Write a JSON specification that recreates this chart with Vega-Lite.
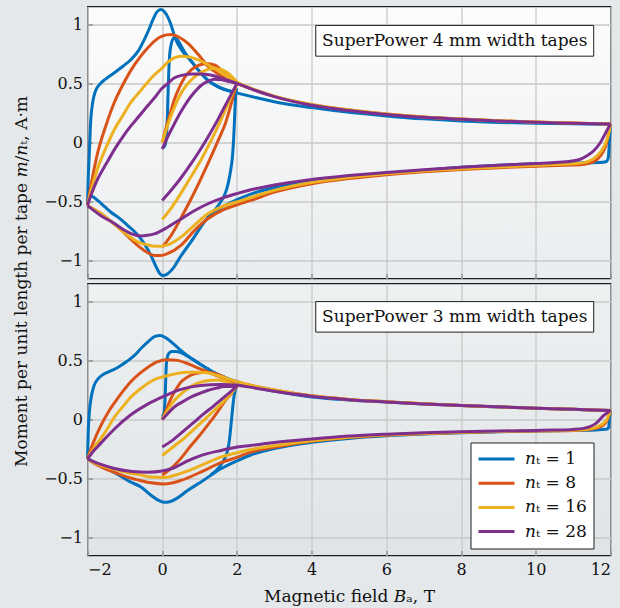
{
"$schema":"https://vega.github.io/schema/vega-lite/v6.json",
"background":"#e5e8ea",
"padding":{"left":11.5,"top":2.5,"right":5,"bottom":5},
"bounds":"flush",
"spacing":5,
"config":{
 "font":"DejaVu Serif",
 "view":{"stroke":"#1e1e1e","strokeWidth":1.3},
 "axis":{"grid":true,"gridColor":"#c8c8c8","gridWidth":1.3,"ticks":true,"tickSize":-5,"tickColor":"#8a8a8a","tickWidth":1.3,"domain":false,"labelFont":"DejaVu Serif","labelFontSize":16,"labelColor":"#111","titleFont":"DejaVu Serif","titleFontSize":17,"titleFontWeight":"normal","titleColor":"#111"},
 "line":{"strokeWidth":3,"interpolate":"monotone"}
},
"resolve":{"scale":{"color":"independent"},"legend":{"color":"independent"}},
"datasets":{
"top":[
{"s":1,"g":"v","x":0,"y":-0.05},{"s":1,"g":"v","x":0.08,"y":-0.02},{"s":1,"g":"v","x":0.13,"y":0.15},{"s":1,"g":"v","x":0.16,"y":0.45},{"s":1,"g":"v","x":0.19,"y":0.7},{"s":1,"g":"v","x":0.24,"y":0.83},{"s":1,"g":"v","x":0.32,"y":0.885},{"s":1,"g":"v","x":0.4,"y":0.87},{"s":1,"g":"v","x":0.5,"y":0.82},{"s":1,"g":"v","x":0.63,"y":0.75},{"s":1,"g":"v","x":0.77,"y":0.69},{"s":1,"g":"v","x":1,"y":0.6},{"s":1,"g":"v","x":1.21,"y":0.53},{"s":1,"g":"v","x":1.5,"y":0.47},{"s":1,"g":"v","x":1.75,"y":0.44},{"s":1,"g":"v","x":2,"y":0.42},
{"s":1,"g":"u","x":-2,"y":-0.53},{"s":1,"g":"u","x":-1.98,"y":-0.3},{"s":1,"g":"u","x":-1.95,"y":-0.08},{"s":1,"g":"u","x":-1.92,"y":0.15},{"s":1,"g":"u","x":-1.86,"y":0.34},{"s":1,"g":"u","x":-1.78,"y":0.44},{"s":1,"g":"u","x":-1.68,"y":0.49},{"s":1,"g":"u","x":-1.5,"y":0.54},{"s":1,"g":"u","x":-1.28,"y":0.59},{"s":1,"g":"u","x":-1.05,"y":0.645},{"s":1,"g":"u","x":-0.84,"y":0.7},{"s":1,"g":"u","x":-0.65,"y":0.77},{"s":1,"g":"u","x":-0.48,"y":0.87},{"s":1,"g":"u","x":-0.35,"y":0.96},{"s":1,"g":"u","x":-0.26,"y":1.03},{"s":1,"g":"u","x":-0.15,"y":1.1},{"s":1,"g":"u","x":-0.05,"y":1.125},{"s":1,"g":"u","x":0.05,"y":1.11},{"s":1,"g":"u","x":0.15,"y":1.06},{"s":1,"g":"u","x":0.23,"y":1.0},{"s":1,"g":"u","x":0.35,"y":0.88},{"s":1,"g":"u","x":0.5,"y":0.79},{"s":1,"g":"u","x":0.77,"y":0.69},{"s":1,"g":"u","x":1,"y":0.6},{"s":1,"g":"u","x":1.21,"y":0.53},{"s":1,"g":"u","x":1.5,"y":0.47},{"s":1,"g":"u","x":2,"y":0.42},{"s":1,"g":"u","x":2.5,"y":0.38},{"s":1,"g":"u","x":3,"y":0.345},{"s":1,"g":"u","x":4,"y":0.295},{"s":1,"g":"u","x":5,"y":0.255},{"s":1,"g":"u","x":6,"y":0.225},{"s":1,"g":"u","x":7,"y":0.2},{"s":1,"g":"u","x":8,"y":0.182},{"s":1,"g":"u","x":9,"y":0.17},{"s":1,"g":"u","x":10,"y":0.163},{"s":1,"g":"u","x":11,"y":0.158},{"s":1,"g":"u","x":12,"y":0.154},
{"s":1,"g":"l","x":12,"y":0.154},{"s":1,"g":"l","x":11.97,"y":0.0},{"s":1,"g":"l","x":11.94,"y":-0.13},{"s":1,"g":"l","x":11.88,"y":-0.163},{"s":1,"g":"l","x":11.7,"y":-0.17},{"s":1,"g":"l","x":11.3,"y":-0.172},{"s":1,"g":"l","x":11,"y":-0.174},{"s":1,"g":"l","x":10,"y":-0.18},{"s":1,"g":"l","x":9,"y":-0.192},{"s":1,"g":"l","x":8,"y":-0.21},{"s":1,"g":"l","x":7,"y":-0.235},{"s":1,"g":"l","x":6,"y":-0.262},{"s":1,"g":"l","x":5,"y":-0.292},{"s":1,"g":"l","x":4,"y":-0.327},{"s":1,"g":"l","x":3,"y":-0.38},{"s":1,"g":"l","x":2.37,"y":-0.436},{"s":1,"g":"l","x":2.02,"y":-0.48},{"s":1,"g":"l","x":1.66,"y":-0.535},{"s":1,"g":"l","x":1.21,"y":-0.64},{"s":1,"g":"l","x":0.77,"y":-0.84},{"s":1,"g":"l","x":0.5,"y":-0.96},{"s":1,"g":"l","x":0.3,"y":-1.06},{"s":1,"g":"l","x":0.12,"y":-1.115},{"s":1,"g":"l","x":0.02,"y":-1.125},{"s":1,"g":"l","x":-0.06,"y":-1.11},{"s":1,"g":"l","x":-0.15,"y":-1.06},{"s":1,"g":"l","x":-0.3,"y":-0.956},{"s":1,"g":"l","x":-0.45,"y":-0.87},{"s":1,"g":"l","x":-0.57,"y":-0.815},{"s":1,"g":"l","x":-0.75,"y":-0.75},{"s":1,"g":"l","x":-0.93,"y":-0.7},{"s":1,"g":"l","x":-1.15,"y":-0.64},{"s":1,"g":"l","x":-1.37,"y":-0.59},{"s":1,"g":"l","x":-1.55,"y":-0.54},{"s":1,"g":"l","x":-1.73,"y":-0.49},{"s":1,"g":"l","x":-1.85,"y":-0.46},{"s":1,"g":"l","x":-1.93,"y":-0.45},{"s":1,"g":"l","x":-2,"y":-0.45},
{"s":1,"g":"r","x":1.2,"y":-0.64},{"s":1,"g":"r","x":1.4,"y":-0.575},{"s":1,"g":"r","x":1.55,"y":-0.51},{"s":1,"g":"r","x":1.66,"y":-0.45},{"s":1,"g":"r","x":1.73,"y":-0.39},{"s":1,"g":"r","x":1.79,"y":-0.31},{"s":1,"g":"r","x":1.84,"y":-0.22},{"s":1,"g":"r","x":1.88,"y":-0.12},{"s":1,"g":"r","x":1.91,"y":0.02},{"s":1,"g":"r","x":1.93,"y":0.15},{"s":1,"g":"r","x":1.95,"y":0.3},{"s":1,"g":"r","x":1.97,"y":0.42},{"s":1,"g":"r","x":2,"y":0.46},
{"s":8,"g":"v","x":0,"y":0},{"s":8,"g":"v","x":0.1,"y":0.12},{"s":8,"g":"v","x":0.2,"y":0.23},{"s":8,"g":"v","x":0.32,"y":0.36},{"s":8,"g":"v","x":0.45,"y":0.46},{"s":8,"g":"v","x":0.6,"y":0.55},{"s":8,"g":"v","x":0.8,"y":0.62},{"s":8,"g":"v","x":1,"y":0.655},{"s":8,"g":"v","x":1.2,"y":0.665},{"s":8,"g":"v","x":1.4,"y":0.655},{"s":8,"g":"v","x":1.6,"y":0.61},{"s":8,"g":"v","x":1.8,"y":0.56},{"s":8,"g":"v","x":2,"y":0.51},
{"s":8,"g":"u","x":-2,"y":-0.53},{"s":8,"g":"u","x":-1.9,"y":-0.35},{"s":8,"g":"u","x":-1.8,"y":-0.19},{"s":8,"g":"u","x":-1.73,"y":-0.09},{"s":8,"g":"u","x":-1.5,"y":0.15},{"s":8,"g":"u","x":-1.28,"y":0.34},{"s":8,"g":"u","x":-1.05,"y":0.49},{"s":8,"g":"u","x":-0.84,"y":0.61},{"s":8,"g":"u","x":-0.6,"y":0.72},{"s":8,"g":"u","x":-0.39,"y":0.8},{"s":8,"g":"u","x":-0.2,"y":0.86},{"s":8,"g":"u","x":0,"y":0.9},{"s":8,"g":"u","x":0.23,"y":0.913},{"s":8,"g":"u","x":0.45,"y":0.89},{"s":8,"g":"u","x":0.68,"y":0.84},{"s":8,"g":"u","x":0.95,"y":0.75},{"s":8,"g":"u","x":1.21,"y":0.65},{"s":8,"g":"u","x":1.5,"y":0.58},{"s":8,"g":"u","x":1.75,"y":0.53},{"s":8,"g":"u","x":2,"y":0.5},{"s":8,"g":"u","x":2.5,"y":0.44},{"s":8,"g":"u","x":3,"y":0.39},{"s":8,"g":"u","x":4,"y":0.32},{"s":8,"g":"u","x":5,"y":0.275},{"s":8,"g":"u","x":6,"y":0.24},{"s":8,"g":"u","x":7,"y":0.215},{"s":8,"g":"u","x":8,"y":0.198},{"s":8,"g":"u","x":9,"y":0.184},{"s":8,"g":"u","x":10,"y":0.173},{"s":8,"g":"u","x":11,"y":0.164},{"s":8,"g":"u","x":12,"y":0.156},
{"s":8,"g":"l","x":12,"y":0.156},{"s":8,"g":"l","x":11.95,"y":0.08},{"s":8,"g":"l","x":11.9,"y":0.0},{"s":8,"g":"l","x":11.8,"y":-0.08},{"s":8,"g":"l","x":11.65,"y":-0.14},{"s":8,"g":"l","x":11.45,"y":-0.175},{"s":8,"g":"l","x":11.2,"y":-0.188},{"s":8,"g":"l","x":11,"y":-0.19},{"s":8,"g":"l","x":10,"y":-0.2},{"s":8,"g":"l","x":9,"y":-0.213},{"s":8,"g":"l","x":8,"y":-0.228},{"s":8,"g":"l","x":7,"y":-0.247},{"s":8,"g":"l","x":6,"y":-0.272},{"s":8,"g":"l","x":5,"y":-0.305},{"s":8,"g":"l","x":4,"y":-0.348},{"s":8,"g":"l","x":3,"y":-0.42},{"s":8,"g":"l","x":2.37,"y":-0.49},{"s":8,"g":"l","x":2.02,"y":-0.525},{"s":8,"g":"l","x":1.66,"y":-0.565},{"s":8,"g":"l","x":1.21,"y":-0.647},{"s":8,"g":"l","x":0.86,"y":-0.745},{"s":8,"g":"l","x":0.5,"y":-0.87},{"s":8,"g":"l","x":0.14,"y":-0.94},{"s":8,"g":"l","x":-0.05,"y":-0.956},{"s":8,"g":"l","x":-0.21,"y":-0.956},{"s":8,"g":"l","x":-0.4,"y":-0.93},{"s":8,"g":"l","x":-0.66,"y":-0.87},{"s":8,"g":"l","x":-0.9,"y":-0.8},{"s":8,"g":"l","x":-1.1,"y":-0.74},{"s":8,"g":"l","x":-1.4,"y":-0.66},{"s":8,"g":"l","x":-1.64,"y":-0.6},{"s":8,"g":"l","x":-1.85,"y":-0.56},{"s":8,"g":"l","x":-2,"y":-0.535},
{"s":8,"g":"r","x":0,"y":-0.885},{"s":8,"g":"r","x":0.25,"y":-0.78},{"s":8,"g":"r","x":0.5,"y":-0.64},{"s":8,"g":"r","x":0.75,"y":-0.49},{"s":8,"g":"r","x":1,"y":-0.33},{"s":8,"g":"r","x":1.25,"y":-0.16},{"s":8,"g":"r","x":1.5,"y":0.02},{"s":8,"g":"r","x":1.7,"y":0.17},{"s":8,"g":"r","x":1.85,"y":0.33},{"s":8,"g":"r","x":1.95,"y":0.45},{"s":8,"g":"r","x":2,"y":0.5},
{"s":16,"g":"v","x":0,"y":0},{"s":16,"g":"v","x":0.15,"y":0.15},{"s":16,"g":"v","x":0.32,"y":0.295},{"s":16,"g":"v","x":0.45,"y":0.385},{"s":16,"g":"v","x":0.59,"y":0.46},{"s":16,"g":"v","x":0.75,"y":0.52},{"s":16,"g":"v","x":0.95,"y":0.575},{"s":16,"g":"v","x":1.15,"y":0.61},{"s":16,"g":"v","x":1.35,"y":0.625},{"s":16,"g":"v","x":1.55,"y":0.62},{"s":16,"g":"v","x":1.75,"y":0.59},{"s":16,"g":"v","x":2,"y":0.51},
{"s":16,"g":"u","x":-2,"y":-0.53},{"s":16,"g":"u","x":-1.9,"y":-0.4},{"s":16,"g":"u","x":-1.73,"y":-0.22},{"s":16,"g":"u","x":-1.5,"y":-0.04},{"s":16,"g":"u","x":-1.28,"y":0.11},{"s":16,"g":"u","x":-1.05,"y":0.23},{"s":16,"g":"u","x":-0.84,"y":0.34},{"s":16,"g":"u","x":-0.6,"y":0.43},{"s":16,"g":"u","x":-0.39,"y":0.51},{"s":16,"g":"u","x":-0.2,"y":0.575},{"s":16,"g":"u","x":0,"y":0.63},{"s":16,"g":"u","x":0.15,"y":0.68},{"s":16,"g":"u","x":0.32,"y":0.715},{"s":16,"g":"u","x":0.5,"y":0.73},{"s":16,"g":"u","x":0.77,"y":0.72},{"s":16,"g":"u","x":1,"y":0.695},{"s":16,"g":"u","x":1.21,"y":0.66},{"s":16,"g":"u","x":1.45,"y":0.615},{"s":16,"g":"u","x":1.66,"y":0.576},{"s":16,"g":"u","x":2,"y":0.51},{"s":16,"g":"u","x":2.5,"y":0.445},{"s":16,"g":"u","x":3,"y":0.392},{"s":16,"g":"u","x":4,"y":0.322},{"s":16,"g":"u","x":5,"y":0.277},{"s":16,"g":"u","x":6,"y":0.242},{"s":16,"g":"u","x":7,"y":0.216},{"s":16,"g":"u","x":8,"y":0.198},{"s":16,"g":"u","x":9,"y":0.184},{"s":16,"g":"u","x":10,"y":0.173},{"s":16,"g":"u","x":11,"y":0.164},{"s":16,"g":"u","x":12,"y":0.156},
{"s":16,"g":"l","x":12,"y":0.156},{"s":16,"g":"l","x":11.95,"y":0.07},{"s":16,"g":"l","x":11.85,"y":-0.02},{"s":16,"g":"l","x":11.65,"y":-0.11},{"s":16,"g":"l","x":11.4,"y":-0.16},{"s":16,"g":"l","x":11.1,"y":-0.178},{"s":16,"g":"l","x":11,"y":-0.18},{"s":16,"g":"l","x":10,"y":-0.193},{"s":16,"g":"l","x":9,"y":-0.207},{"s":16,"g":"l","x":8,"y":-0.222},{"s":16,"g":"l","x":7,"y":-0.24},{"s":16,"g":"l","x":6,"y":-0.265},{"s":16,"g":"l","x":5,"y":-0.297},{"s":16,"g":"l","x":4,"y":-0.338},{"s":16,"g":"l","x":3,"y":-0.405},{"s":16,"g":"l","x":2.37,"y":-0.465},{"s":16,"g":"l","x":2.02,"y":-0.5},{"s":16,"g":"l","x":1.66,"y":-0.535},{"s":16,"g":"l","x":1.21,"y":-0.605},{"s":16,"g":"l","x":0.86,"y":-0.7},{"s":16,"g":"l","x":0.5,"y":-0.8},{"s":16,"g":"l","x":0.14,"y":-0.866},{"s":16,"g":"l","x":-0.05,"y":-0.877},{"s":16,"g":"l","x":-0.21,"y":-0.877},{"s":16,"g":"l","x":-0.4,"y":-0.865},{"s":16,"g":"l","x":-0.66,"y":-0.84},{"s":16,"g":"l","x":-0.9,"y":-0.79},{"s":16,"g":"l","x":-1.1,"y":-0.74},{"s":16,"g":"l","x":-1.4,"y":-0.66},{"s":16,"g":"l","x":-1.64,"y":-0.6},{"s":16,"g":"l","x":-1.85,"y":-0.56},{"s":16,"g":"l","x":-2,"y":-0.535},
{"s":16,"g":"r","x":0,"y":-0.65},{"s":16,"g":"r","x":0.25,"y":-0.55},{"s":16,"g":"r","x":0.5,"y":-0.43},{"s":16,"g":"r","x":0.75,"y":-0.3},{"s":16,"g":"r","x":1,"y":-0.17},{"s":16,"g":"r","x":1.25,"y":-0.02},{"s":16,"g":"r","x":1.5,"y":0.14},{"s":16,"g":"r","x":1.75,"y":0.32},{"s":16,"g":"r","x":2,"y":0.5},
{"s":28,"g":"v","x":0,"y":-0.055},{"s":28,"g":"v","x":0.15,"y":0.05},{"s":28,"g":"v","x":0.32,"y":0.155},{"s":28,"g":"v","x":0.5,"y":0.26},{"s":28,"g":"v","x":0.68,"y":0.35},{"s":28,"g":"v","x":0.85,"y":0.42},{"s":28,"g":"v","x":1.03,"y":0.48},{"s":28,"g":"v","x":1.2,"y":0.515},{"s":28,"g":"v","x":1.39,"y":0.535},{"s":28,"g":"v","x":1.6,"y":0.53},{"s":28,"g":"v","x":1.8,"y":0.515},{"s":28,"g":"v","x":2,"y":0.5},
{"s":28,"g":"u","x":-2,"y":-0.53},{"s":28,"g":"u","x":-1.9,"y":-0.44},{"s":28,"g":"u","x":-1.73,"y":-0.31},{"s":28,"g":"u","x":-1.5,"y":-0.18},{"s":28,"g":"u","x":-1.28,"y":-0.06},{"s":28,"g":"u","x":-1.05,"y":0.05},{"s":28,"g":"u","x":-0.84,"y":0.14},{"s":28,"g":"u","x":-0.6,"y":0.23},{"s":28,"g":"u","x":-0.39,"y":0.31},{"s":28,"g":"u","x":-0.2,"y":0.38},{"s":28,"g":"u","x":-0.03,"y":0.45},{"s":28,"g":"u","x":0.15,"y":0.5},{"s":28,"g":"u","x":0.32,"y":0.545},{"s":28,"g":"u","x":0.55,"y":0.57},{"s":28,"g":"u","x":0.8,"y":0.58},{"s":28,"g":"u","x":1.05,"y":0.58},{"s":28,"g":"u","x":1.3,"y":0.57},{"s":28,"g":"u","x":1.66,"y":0.535},{"s":28,"g":"u","x":2,"y":0.5},{"s":28,"g":"u","x":2.5,"y":0.44},{"s":28,"g":"u","x":3,"y":0.388},{"s":28,"g":"u","x":4,"y":0.315},{"s":28,"g":"u","x":5,"y":0.27},{"s":28,"g":"u","x":6,"y":0.237},{"s":28,"g":"u","x":7,"y":0.213},{"s":28,"g":"u","x":8,"y":0.196},{"s":28,"g":"u","x":9,"y":0.182},{"s":28,"g":"u","x":10,"y":0.171},{"s":28,"g":"u","x":11,"y":0.163},{"s":28,"g":"u","x":12,"y":0.156},
{"s":28,"g":"l","x":12,"y":0.156},{"s":28,"g":"l","x":11.9,"y":0.1},{"s":28,"g":"l","x":11.73,"y":0.0},{"s":28,"g":"l","x":11.55,"y":-0.07},{"s":28,"g":"l","x":11.38,"y":-0.11},{"s":28,"g":"l","x":11.2,"y":-0.14},{"s":28,"g":"l","x":11.02,"y":-0.155},{"s":28,"g":"l","x":10.6,"y":-0.168},{"s":28,"g":"l","x":10,"y":-0.178},{"s":28,"g":"l","x":9,"y":-0.193},{"s":28,"g":"l","x":8,"y":-0.21},{"s":28,"g":"l","x":7,"y":-0.23},{"s":28,"g":"l","x":6,"y":-0.253},{"s":28,"g":"l","x":5,"y":-0.28},{"s":28,"g":"l","x":4,"y":-0.312},{"s":28,"g":"l","x":3,"y":-0.36},{"s":28,"g":"l","x":2.37,"y":-0.4},{"s":28,"g":"l","x":2.02,"y":-0.43},{"s":28,"g":"l","x":1.66,"y":-0.464},{"s":28,"g":"l","x":1.21,"y":-0.52},{"s":28,"g":"l","x":0.86,"y":-0.577},{"s":28,"g":"l","x":0.5,"y":-0.647},{"s":28,"g":"l","x":0.14,"y":-0.717},{"s":28,"g":"l","x":-0.21,"y":-0.773},{"s":28,"g":"l","x":-0.39,"y":-0.785},{"s":28,"g":"l","x":-0.57,"y":-0.79},{"s":28,"g":"l","x":-0.8,"y":-0.775},{"s":28,"g":"l","x":-1.02,"y":-0.74},{"s":28,"g":"l","x":-1.3,"y":-0.68},{"s":28,"g":"l","x":-1.64,"y":-0.62},{"s":28,"g":"l","x":-1.85,"y":-0.57},{"s":28,"g":"l","x":-2,"y":-0.535},
{"s":28,"g":"r","x":0,"y":-0.49},{"s":28,"g":"r","x":0.25,"y":-0.4},{"s":28,"g":"r","x":0.5,"y":-0.3},{"s":28,"g":"r","x":0.75,"y":-0.19},{"s":28,"g":"r","x":1,"y":-0.07},{"s":28,"g":"r","x":1.25,"y":0.06},{"s":28,"g":"r","x":1.5,"y":0.2},{"s":28,"g":"r","x":1.75,"y":0.35},{"s":28,"g":"r","x":2,"y":0.5}
],
"bot":[
{"s":1,"g":"v","x":0,"y":0.02},{"s":1,"g":"v","x":0.05,"y":0.06},{"s":1,"g":"v","x":0.08,"y":0.2},{"s":1,"g":"v","x":0.1,"y":0.4},{"s":1,"g":"v","x":0.13,"y":0.52},{"s":1,"g":"v","x":0.18,"y":0.56},{"s":1,"g":"v","x":0.26,"y":0.575},{"s":1,"g":"v","x":0.35,"y":0.575},{"s":1,"g":"v","x":0.5,"y":0.565},{"s":1,"g":"v","x":0.68,"y":0.535},{"s":1,"g":"v","x":0.86,"y":0.5},{"s":1,"g":"v","x":1.05,"y":0.46},{"s":1,"g":"v","x":1.21,"y":0.43},{"s":1,"g":"v","x":1.4,"y":0.395},{"s":1,"g":"v","x":1.57,"y":0.37},{"s":1,"g":"v","x":1.75,"y":0.345},{"s":1,"g":"v","x":2,"y":0.32},
{"s":1,"g":"u","x":-2,"y":-0.332},{"s":1,"g":"u","x":-1.98,"y":-0.1},{"s":1,"g":"u","x":-1.95,"y":0.06},{"s":1,"g":"u","x":-1.9,"y":0.19},{"s":1,"g":"u","x":-1.82,"y":0.29},{"s":1,"g":"u","x":-1.7,"y":0.35},{"s":1,"g":"u","x":-1.55,"y":0.386},{"s":1,"g":"u","x":-1.35,"y":0.415},{"s":1,"g":"u","x":-1.19,"y":0.44},{"s":1,"g":"u","x":-0.95,"y":0.49},{"s":1,"g":"u","x":-0.75,"y":0.54},{"s":1,"g":"u","x":-0.57,"y":0.6},{"s":1,"g":"u","x":-0.39,"y":0.654},{"s":1,"g":"u","x":-0.21,"y":0.7},{"s":1,"g":"u","x":-0.05,"y":0.71},{"s":1,"g":"u","x":0.1,"y":0.69},{"s":1,"g":"u","x":0.3,"y":0.64},{"s":1,"g":"u","x":0.5,"y":0.585},{"s":1,"g":"u","x":0.7,"y":0.535},{"s":1,"g":"u","x":0.86,"y":0.5},{"s":1,"g":"u","x":1.05,"y":0.46},{"s":1,"g":"u","x":1.21,"y":0.43},{"s":1,"g":"u","x":1.4,"y":0.395},{"s":1,"g":"u","x":1.57,"y":0.37},{"s":1,"g":"u","x":1.75,"y":0.345},{"s":1,"g":"u","x":2.02,"y":0.316},{"s":1,"g":"u","x":2.5,"y":0.27},{"s":1,"g":"u","x":3,"y":0.24},{"s":1,"g":"u","x":4,"y":0.19},{"s":1,"g":"u","x":5,"y":0.165},{"s":1,"g":"u","x":6,"y":0.148},{"s":1,"g":"u","x":7,"y":0.132},{"s":1,"g":"u","x":8,"y":0.118},{"s":1,"g":"u","x":9,"y":0.106},{"s":1,"g":"u","x":10,"y":0.096},{"s":1,"g":"u","x":11,"y":0.086},{"s":1,"g":"u","x":12,"y":0.076},
{"s":1,"g":"l","x":12,"y":0.076},{"s":1,"g":"l","x":11.97,"y":0.0},{"s":1,"g":"l","x":11.95,"y":-0.07},{"s":1,"g":"l","x":11.88,"y":-0.083},{"s":1,"g":"l","x":11.6,"y":-0.088},{"s":1,"g":"l","x":11,"y":-0.091},{"s":1,"g":"l","x":10,"y":-0.098},{"s":1,"g":"l","x":9,"y":-0.104},{"s":1,"g":"l","x":8,"y":-0.112},{"s":1,"g":"l","x":7,"y":-0.123},{"s":1,"g":"l","x":6,"y":-0.138},{"s":1,"g":"l","x":5,"y":-0.16},{"s":1,"g":"l","x":4,"y":-0.193},{"s":1,"g":"l","x":3,"y":-0.245},{"s":1,"g":"l","x":2.37,"y":-0.3},{"s":1,"g":"l","x":2.02,"y":-0.347},{"s":1,"g":"l","x":1.57,"y":-0.417},{"s":1,"g":"l","x":1.03,"y":-0.53},{"s":1,"g":"l","x":0.68,"y":-0.6},{"s":1,"g":"l","x":0.4,"y":-0.665},{"s":1,"g":"l","x":0.2,"y":-0.695},{"s":1,"g":"l","x":0.05,"y":-0.7},{"s":1,"g":"l","x":-0.12,"y":-0.68},{"s":1,"g":"l","x":-0.3,"y":-0.64},{"s":1,"g":"l","x":-0.57,"y":-0.57},{"s":1,"g":"l","x":-0.84,"y":-0.53},{"s":1,"g":"l","x":-1.19,"y":-0.465},{"s":1,"g":"l","x":-1.45,"y":-0.42},{"s":1,"g":"l","x":-1.64,"y":-0.39},{"s":1,"g":"l","x":-1.85,"y":-0.355},{"s":1,"g":"l","x":-2,"y":-0.332},
{"s":1,"g":"r","x":1.3,"y":-0.47},{"s":1,"g":"r","x":1.45,"y":-0.43},{"s":1,"g":"r","x":1.6,"y":-0.37},{"s":1,"g":"r","x":1.7,"y":-0.31},{"s":1,"g":"r","x":1.76,"y":-0.25},{"s":1,"g":"r","x":1.8,"y":-0.17},{"s":1,"g":"r","x":1.84,"y":-0.05},{"s":1,"g":"r","x":1.88,"y":0.08},{"s":1,"g":"r","x":1.92,"y":0.19},{"s":1,"g":"r","x":1.96,"y":0.25},{"s":1,"g":"r","x":2,"y":0.28},
{"s":8,"g":"v","x":0,"y":0},{"s":8,"g":"v","x":0.12,"y":0.09},{"s":8,"g":"v","x":0.23,"y":0.175},{"s":8,"g":"v","x":0.36,"y":0.25},{"s":8,"g":"v","x":0.5,"y":0.316},{"s":8,"g":"v","x":0.68,"y":0.36},{"s":8,"g":"v","x":0.86,"y":0.386},{"s":8,"g":"v","x":1.05,"y":0.398},{"s":8,"g":"v","x":1.21,"y":0.4},{"s":8,"g":"v","x":1.4,"y":0.39},{"s":8,"g":"v","x":1.57,"y":0.372},{"s":8,"g":"v","x":1.8,"y":0.33},{"s":8,"g":"v","x":2,"y":0.28},
{"s":8,"g":"u","x":-2,"y":-0.332},{"s":8,"g":"u","x":-1.85,"y":-0.2},{"s":8,"g":"u","x":-1.64,"y":-0.05},{"s":8,"g":"u","x":-1.45,"y":0.06},{"s":8,"g":"u","x":-1.28,"y":0.14},{"s":8,"g":"u","x":-1.05,"y":0.24},{"s":8,"g":"u","x":-0.84,"y":0.32},{"s":8,"g":"u","x":-0.6,"y":0.39},{"s":8,"g":"u","x":-0.39,"y":0.44},{"s":8,"g":"u","x":-0.15,"y":0.485},{"s":8,"g":"u","x":0.14,"y":0.505},{"s":8,"g":"u","x":0.4,"y":0.5},{"s":8,"g":"u","x":0.7,"y":0.47},{"s":8,"g":"u","x":1,"y":0.43},{"s":8,"g":"u","x":1.3,"y":0.39},{"s":8,"g":"u","x":1.6,"y":0.355},{"s":8,"g":"u","x":2,"y":0.32},{"s":8,"g":"u","x":2.5,"y":0.28},{"s":8,"g":"u","x":3,"y":0.25},{"s":8,"g":"u","x":4,"y":0.2},{"s":8,"g":"u","x":5,"y":0.17},{"s":8,"g":"u","x":6,"y":0.15},{"s":8,"g":"u","x":7,"y":0.133},{"s":8,"g":"u","x":8,"y":0.118},{"s":8,"g":"u","x":9,"y":0.107},{"s":8,"g":"u","x":10,"y":0.096},{"s":8,"g":"u","x":11,"y":0.086},{"s":8,"g":"u","x":12,"y":0.076},
{"s":8,"g":"l","x":12,"y":0.076},{"s":8,"g":"l","x":11.92,"y":0.0},{"s":8,"g":"l","x":11.8,"y":-0.05},{"s":8,"g":"l","x":11.6,"y":-0.075},{"s":8,"g":"l","x":11.35,"y":-0.087},{"s":8,"g":"l","x":11,"y":-0.092},{"s":8,"g":"l","x":10,"y":-0.097},{"s":8,"g":"l","x":9,"y":-0.102},{"s":8,"g":"l","x":8,"y":-0.11},{"s":8,"g":"l","x":7,"y":-0.12},{"s":8,"g":"l","x":6,"y":-0.133},{"s":8,"g":"l","x":5,"y":-0.153},{"s":8,"g":"l","x":4,"y":-0.185},{"s":8,"g":"l","x":3,"y":-0.235},{"s":8,"g":"l","x":2.37,"y":-0.276},{"s":8,"g":"l","x":2.02,"y":-0.318},{"s":8,"g":"l","x":1.57,"y":-0.365},{"s":8,"g":"l","x":1.03,"y":-0.445},{"s":8,"g":"l","x":0.5,"y":-0.515},{"s":8,"g":"l","x":0.05,"y":-0.545},{"s":8,"g":"l","x":-0.3,"y":-0.535},{"s":8,"g":"l","x":-0.6,"y":-0.515},{"s":8,"g":"l","x":-0.93,"y":-0.487},{"s":8,"g":"l","x":-1.3,"y":-0.445},{"s":8,"g":"l","x":-1.64,"y":-0.4},{"s":8,"g":"l","x":-1.85,"y":-0.365},{"s":8,"g":"l","x":-2,"y":-0.332},
{"s":8,"g":"r","x":0,"y":-0.47},{"s":8,"g":"r","x":0.32,"y":-0.39},{"s":8,"g":"r","x":0.55,"y":-0.31},{"s":8,"g":"r","x":0.77,"y":-0.22},{"s":8,"g":"r","x":1,"y":-0.135},{"s":8,"g":"r","x":1.21,"y":-0.05},{"s":8,"g":"r","x":1.45,"y":0.05},{"s":8,"g":"r","x":1.66,"y":0.147},{"s":8,"g":"r","x":1.85,"y":0.22},{"s":8,"g":"r","x":2,"y":0.28},
{"s":16,"g":"v","x":0,"y":0},{"s":16,"g":"v","x":0.15,"y":0.08},{"s":16,"g":"v","x":0.32,"y":0.16},{"s":16,"g":"v","x":0.5,"y":0.215},{"s":16,"g":"v","x":0.68,"y":0.26},{"s":16,"g":"v","x":0.86,"y":0.295},{"s":16,"g":"v","x":1.03,"y":0.316},{"s":16,"g":"v","x":1.25,"y":0.33},{"s":16,"g":"v","x":1.48,"y":0.335},{"s":16,"g":"v","x":1.75,"y":0.315},{"s":16,"g":"v","x":2,"y":0.28},
{"s":16,"g":"u","x":-2,"y":-0.332},{"s":16,"g":"u","x":-1.85,"y":-0.25},{"s":16,"g":"u","x":-1.64,"y":-0.16},{"s":16,"g":"u","x":-1.45,"y":-0.07},{"s":16,"g":"u","x":-1.28,"y":0.02},{"s":16,"g":"u","x":-1.05,"y":0.11},{"s":16,"g":"u","x":-0.84,"y":0.19},{"s":16,"g":"u","x":-0.6,"y":0.255},{"s":16,"g":"u","x":-0.39,"y":0.305},{"s":16,"g":"u","x":-0.15,"y":0.345},{"s":16,"g":"u","x":0.14,"y":0.37},{"s":16,"g":"u","x":0.4,"y":0.39},{"s":16,"g":"u","x":0.68,"y":0.4},{"s":16,"g":"u","x":1,"y":0.4},{"s":16,"g":"u","x":1.21,"y":0.395},{"s":16,"g":"u","x":1.5,"y":0.37},{"s":16,"g":"u","x":1.75,"y":0.345},{"s":16,"g":"u","x":2,"y":0.32},{"s":16,"g":"u","x":2.5,"y":0.28},{"s":16,"g":"u","x":3,"y":0.25},{"s":16,"g":"u","x":4,"y":0.2},{"s":16,"g":"u","x":5,"y":0.17},{"s":16,"g":"u","x":6,"y":0.15},{"s":16,"g":"u","x":7,"y":0.133},{"s":16,"g":"u","x":8,"y":0.118},{"s":16,"g":"u","x":9,"y":0.107},{"s":16,"g":"u","x":10,"y":0.096},{"s":16,"g":"u","x":11,"y":0.086},{"s":16,"g":"u","x":12,"y":0.076},
{"s":16,"g":"l","x":12,"y":0.076},{"s":16,"g":"l","x":11.9,"y":0.0},{"s":16,"g":"l","x":11.75,"y":-0.045},{"s":16,"g":"l","x":11.55,"y":-0.072},{"s":16,"g":"l","x":11.3,"y":-0.085},{"s":16,"g":"l","x":11,"y":-0.09},{"s":16,"g":"l","x":10,"y":-0.096},{"s":16,"g":"l","x":9,"y":-0.101},{"s":16,"g":"l","x":8,"y":-0.108},{"s":16,"g":"l","x":7,"y":-0.118},{"s":16,"g":"l","x":6,"y":-0.13},{"s":16,"g":"l","x":5,"y":-0.15},{"s":16,"g":"l","x":4,"y":-0.18},{"s":16,"g":"l","x":3,"y":-0.222},{"s":16,"g":"l","x":2.37,"y":-0.254},{"s":16,"g":"l","x":2.02,"y":-0.28},{"s":16,"g":"l","x":1.57,"y":-0.318},{"s":16,"g":"l","x":1.03,"y":-0.39},{"s":16,"g":"l","x":0.5,"y":-0.455},{"s":16,"g":"l","x":0.05,"y":-0.49},{"s":16,"g":"l","x":-0.3,"y":-0.487},{"s":16,"g":"l","x":-0.57,"y":-0.47},{"s":16,"g":"l","x":-0.93,"y":-0.45},{"s":16,"g":"l","x":-1.3,"y":-0.42},{"s":16,"g":"l","x":-1.64,"y":-0.39},{"s":16,"g":"l","x":-1.85,"y":-0.36},{"s":16,"g":"l","x":-2,"y":-0.332},
{"s":16,"g":"r","x":0,"y":-0.304},{"s":16,"g":"r","x":0.3,"y":-0.23},{"s":16,"g":"r","x":0.6,"y":-0.155},{"s":16,"g":"r","x":0.86,"y":-0.08},{"s":16,"g":"r","x":1.1,"y":-0.01},{"s":16,"g":"r","x":1.39,"y":0.076},{"s":16,"g":"r","x":1.7,"y":0.17},{"s":16,"g":"r","x":2,"y":0.28},
{"s":28,"g":"v","x":0,"y":0},{"s":28,"g":"v","x":0.15,"y":0.05},{"s":28,"g":"v","x":0.32,"y":0.105},{"s":28,"g":"v","x":0.55,"y":0.15},{"s":28,"g":"v","x":0.77,"y":0.19},{"s":28,"g":"v","x":1,"y":0.22},{"s":28,"g":"v","x":1.21,"y":0.245},{"s":28,"g":"v","x":1.45,"y":0.265},{"s":28,"g":"v","x":1.66,"y":0.278},{"s":28,"g":"v","x":2,"y":0.28},
{"s":28,"g":"u","x":-2,"y":-0.332},{"s":28,"g":"u","x":-1.85,"y":-0.27},{"s":28,"g":"u","x":-1.64,"y":-0.2},{"s":28,"g":"u","x":-1.28,"y":-0.08},{"s":28,"g":"u","x":-0.84,"y":0.04},{"s":28,"g":"u","x":-0.39,"y":0.13},{"s":28,"g":"u","x":0,"y":0.19},{"s":28,"g":"u","x":0.5,"y":0.255},{"s":28,"g":"u","x":1.03,"y":0.288},{"s":28,"g":"u","x":1.57,"y":0.295},{"s":28,"g":"u","x":2,"y":0.29},{"s":28,"g":"u","x":2.5,"y":0.265},{"s":28,"g":"u","x":3,"y":0.238},{"s":28,"g":"u","x":4,"y":0.197},{"s":28,"g":"u","x":5,"y":0.168},{"s":28,"g":"u","x":6,"y":0.148},{"s":28,"g":"u","x":7,"y":0.132},{"s":28,"g":"u","x":8,"y":0.118},{"s":28,"g":"u","x":9,"y":0.107},{"s":28,"g":"u","x":10,"y":0.096},{"s":28,"g":"u","x":11,"y":0.086},{"s":28,"g":"u","x":12,"y":0.076},
{"s":28,"g":"l","x":12,"y":0.076},{"s":28,"g":"l","x":11.82,"y":0.034},{"s":28,"g":"l","x":11.6,"y":-0.035},{"s":28,"g":"l","x":11.45,"y":-0.06},{"s":28,"g":"l","x":11.28,"y":-0.075},{"s":28,"g":"l","x":11,"y":-0.084},{"s":28,"g":"l","x":10.5,"y":-0.089},{"s":28,"g":"l","x":10,"y":-0.092},{"s":28,"g":"l","x":9,"y":-0.098},{"s":28,"g":"l","x":8,"y":-0.104},{"s":28,"g":"l","x":7,"y":-0.112},{"s":28,"g":"l","x":6,"y":-0.124},{"s":28,"g":"l","x":5,"y":-0.14},{"s":28,"g":"l","x":4,"y":-0.165},{"s":28,"g":"l","x":3,"y":-0.195},{"s":28,"g":"l","x":2.37,"y":-0.22},{"s":28,"g":"l","x":2.02,"y":-0.233},{"s":28,"g":"l","x":1.57,"y":-0.262},{"s":28,"g":"l","x":1.03,"y":-0.305},{"s":28,"g":"l","x":0.68,"y":-0.35},{"s":28,"g":"l","x":0.3,"y":-0.41},{"s":28,"g":"l","x":0,"y":-0.435},{"s":28,"g":"l","x":-0.39,"y":-0.445},{"s":28,"g":"l","x":-0.8,"y":-0.44},{"s":28,"g":"l","x":-1.28,"y":-0.415},{"s":28,"g":"l","x":-1.64,"y":-0.38},{"s":28,"g":"l","x":-1.85,"y":-0.355},{"s":28,"g":"l","x":-2,"y":-0.332},
{"s":28,"g":"r","x":0,"y":-0.233},{"s":28,"g":"r","x":0.3,"y":-0.17},{"s":28,"g":"r","x":0.6,"y":-0.09},{"s":28,"g":"r","x":0.86,"y":-0.02},{"s":28,"g":"r","x":1.1,"y":0.045},{"s":28,"g":"r","x":1.39,"y":0.118},{"s":28,"g":"r","x":1.7,"y":0.2},{"s":28,"g":"r","x":2,"y":0.28}
]
},
"vconcat":[
{
 "width":523,"height":272,
 "view":{"fill":{"gradient":"linear","x1":0,"y1":0,"x2":0,"y2":1,"stops":[{"offset":0,"color":"#fcfcfc"},{"offset":1,"color":"#eaedef"}]}},
 "layer":[
  {"data":{"name":"top"},"mark":"line",
   "encoding":{
    "x":{"field":"x","type":"quantitative","scale":{"domain":[-2,12],"nice":false,"zero":false},"axis":{"values":[-2,0,2,4,6,8,10,12],"labels":false,"title":null}},
    "y":{"field":"y","type":"quantitative","scale":{"domain":[-1.15,1.15],"nice":false,"zero":false},"axis":{"values":[-1,-0.5,0,0.5,1],"format":"~g","labelPadding":10,"title":"Moment per unit length per tape 𝑚/𝑛ₜ, A·m","titleX":-66,"titleY":274.5,"titleAngle":-90,"titleAlign":"center","titleBaseline":"middle"}},
    "color":{"field":"s","type":"nominal","scale":{"domain":[1,8,16,28],"range":["#0072BD","#D95319","#EDB120","#7E2F8E"]},"legend":null},
    "detail":{"field":"g","type":"nominal"}}},
  {"data":{"values":[{}]},"mark":{"type":"rect","fill":"white","stroke":"#1e1e1e","strokeWidth":1},"encoding":{"x":{"datum":4.11},"x2":{"datum":11.55},"y":{"datum":0.99},"y2":{"datum":0.73}}},
  {"data":{"values":[{}]},"mark":{"type":"text","fontSize":17,"font":"DejaVu Serif","color":"#111"},"encoding":{"x":{"datum":7.83},"y":{"datum":0.86},"text":{"value":"SuperPower 4 mm width tapes"}}}
 ]
},
{
 "width":523,"height":272,
 "view":{"fill":{"gradient":"linear","x1":0,"y1":0,"x2":0,"y2":1,"stops":[{"offset":0,"color":"#eef1f2"},{"offset":1,"color":"#e0e4e6"}]}},
 "layer":[
  {"data":{"name":"bot"},"mark":"line",
   "encoding":{
    "x":{"field":"x","type":"quantitative","scale":{"domain":[-2,12],"nice":false,"zero":false},"axis":{"values":[-2,0,2,4,6,8,10,12],"format":"~g","labelPadding":11,"title":"Magnetic field 𝐵ₐ, T","titlePadding":11}},
    "y":{"field":"y","type":"quantitative","scale":{"domain":[-1.15,1.15],"nice":false,"zero":false},"axis":{"values":[-1,-0.5,0,0.5,1],"format":"~g","labelPadding":10,"title":null}},
    "color":{"field":"s","type":"nominal","scale":{"domain":[1,8,16,28],"range":["#0072BD","#D95319","#EDB120","#7E2F8E"]},
      "legend":{"orient":"none","legendX":383,"legendY":159,"title":null,"fillColor":"white","strokeColor":"#1e1e1e","padding":6.5,"symbolType":"stroke","symbolSize":1296,"symbolStrokeWidth":3,"labelExpr":"'𝑛ₜ = ' + datum.label","labelFont":"DejaVu Serif","labelFontSize":17,"labelColor":"#111","labelOffset":9,"clipHeight":20,"rowPadding":4.2}},
    "detail":{"field":"g","type":"nominal"}}},
  {"data":{"values":[{}]},"mark":{"type":"rect","fill":"white","stroke":"#1e1e1e","strokeWidth":1},"encoding":{"x":{"datum":4.11},"x2":{"datum":11.55},"y":{"datum":0.997},"y2":{"datum":0.739}}},
  {"data":{"values":[{}]},"mark":{"type":"text","fontSize":17,"font":"DejaVu Serif","color":"#111"},"encoding":{"x":{"datum":7.83},"y":{"datum":0.868},"text":{"value":"SuperPower 3 mm width tapes"}}}
 ]
}
]
}
